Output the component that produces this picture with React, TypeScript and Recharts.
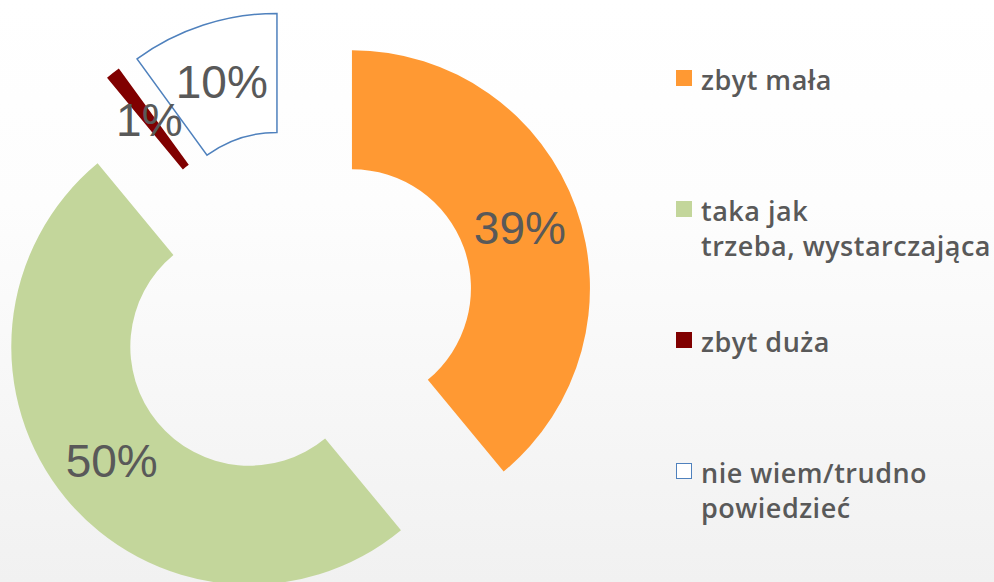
import React from 'react';
import { PieChart, Pie, Cell, Legend } from 'recharts';

const categories = [
  'zbyt mała',
  'taka jak trzeba, wystarczająca',
  'zbyt duża',
  'nie wiem/trudno powiedzieć',
];
const legendLines = [
  ['zbyt mała'],
  ['taka jak', 'trzeba, wystarczająca'],
  ['zbyt duża'],
  ['nie wiem/trudno', 'powiedzieć'],
];
const values = [39, 50, 1, 10];
const valueLabels = ['39%', '50%', '1%', '10%'];
const fills = ['#FF9933', '#C3D69B', '#800000', '#FFFFFF'];
const strokes = ['none', 'none', 'none', '#4F81BD'];

const data = categories.map((name, i) => ({ name, value: values[i] }));

const W = 994;
const H = 582;
const CX = 295.5;
const CY = 308.5;
const INNER = 119;
const OUTER = 238;
const EXPLODE = 60;
const RAD = Math.PI / 180;
const total = values.reduce((a, b) => a + b, 0);

function explodeOffset(i: number) {
  const before = values.slice(0, i).reduce((a, b) => a + b, 0);
  const mid = 90 - ((before + values[i] / 2) / total) * 360;
  return { dx: EXPLODE * Math.cos(mid * RAD), dy: -EXPLODE * Math.sin(mid * RAD) };
}

const makeLabel = (i: number, pcx: number, pcy: number) => (props: any) => {
  if (props.index !== i) return null;
  const mid = props.midAngle;
  const r = (INNER + OUTER) / 2;
  const x = pcx + r * Math.cos(-mid * RAD);
  const y = pcy + r * Math.sin(-mid * RAD);
  return (
    <text
      x={x}
      y={y}
      textAnchor="middle"
      dominantBaseline="central"
      fill="#595959"
      fontFamily="'Liberation Sans', Arial, sans-serif"
      fontSize={46}
    >
      {valueLabels[i]}
    </text>
  );
};

const LegendContent = () => (
  <div style={{ position: 'relative', width: 318, height: 480 }}>
    {legendLines.map((lines, i) => {
      const top = i * 131;
      return (
        <div key={i}>
          <div
            style={{
              position: 'absolute',
              left: 0,
              top: top,
              width: i === 3 ? 14 : 16,
              height: i === 3 ? 14 : 16,
              background: fills[i],
              border: i === 3 ? '1.5px solid #4F81BD' : 'none',
            }}
          />
          <div
            style={{
              position: 'absolute',
              left: 25,
              top: top - 8,
              fontFamily: "'Open Sans', sans-serif",
              fontWeight: 600,
              fontSize: 27,
              lineHeight: '35px',
              color: '#595959',
              whiteSpace: 'nowrap',
              letterSpacing: '0.5px',
            }}
          >
            {lines.map((l, k) => (
              <div key={k}>{l}</div>
            ))}
          </div>
        </div>
      );
    })}
  </div>
);

export default function App() {
  return (
    <div
      style={{
        position: 'absolute',
        left: 0,
        top: 0,
        width: W,
        height: H,
        overflow: 'hidden',
        background: 'linear-gradient(to bottom, #ffffff 0%, #fdfdfd 35%, #f1f1f1 100%)',
      }}
    >
      <PieChart width={W} height={H} margin={{ top: 0, right: 0, bottom: 0, left: 0 }}>
        {values.map((_, i) => {
          const { dx, dy } = explodeOffset(i);
          const pcx = CX + dx;
          const pcy = CY + dy;
          return (
            <Pie
              key={i}
              data={data}
              dataKey="value"
              nameKey="name"
              cx={pcx}
              cy={pcy}
              startAngle={90}
              endAngle={-270}
              innerRadius={INNER}
              outerRadius={OUTER}
              paddingAngle={0}
              isAnimationActive={false}
              labelLine={false}
              label={makeLabel(i, pcx, pcy)}
            >
              {data.map((_, k) => (
                <Cell
                  key={k}
                  fill={k === i ? fills[k] : 'none'}
                  stroke={k === i ? strokes[k] : 'none'}
                  strokeWidth={k === i ? 1.5 : 0}
                />
              ))}
            </Pie>
          );
        })}
        <Legend
          layout="vertical"
          content={<LegendContent />}
          wrapperStyle={{ position: 'absolute', left: 676, top: 70, width: 318 }}
        />
      </PieChart>
    </div>
  );
}
